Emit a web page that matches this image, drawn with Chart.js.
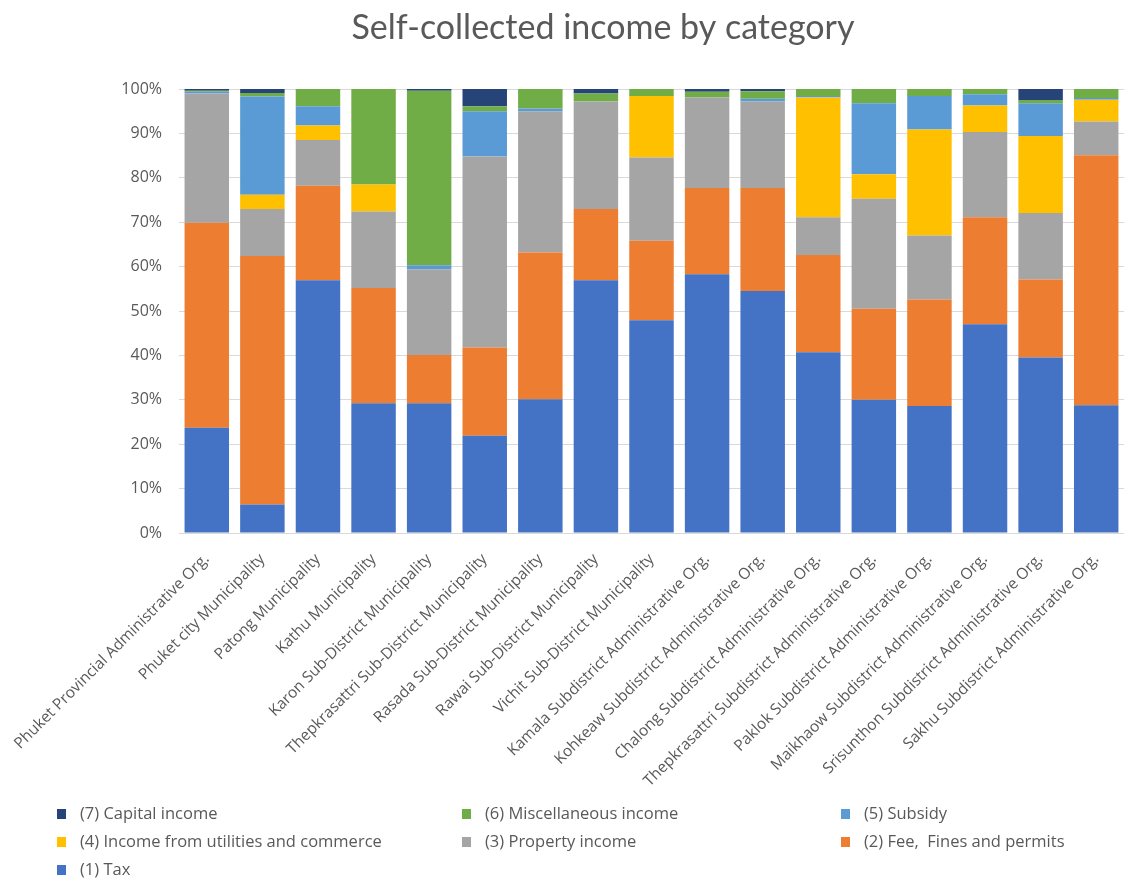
<!DOCTYPE html>
<html>
<head>
<meta charset="utf-8">
<script src="https://cdn.jsdelivr.net/npm/chart.js@4.4.1/dist/chart.umd.min.js"></script>
<style>
  html, body { margin: 0; padding: 0; background: #fff; }
  #wrap { position: relative; width: 1124px; height: 882px; }
</style>
</head>
<body>
<div id="wrap"><canvas id="chart"></canvas></div>
<script>
// categories
const categories = [
  'Phuket Provincial Administrative Org.',
  'Phuket city Municipality',
  'Patong Municipality',
  'Kathu Municipality',
  'Karon Sub-District Municipality',
  'Thepkrasattri Sub-District Municipality',
  'Rasada Sub-District Municipality',
  'Rawai Sub-District Municipality',
  'Vichit Sub-District Municipality',
  'Kamala Subdistrict Administrative Org.',
  'Kohkeaw Subdistrict Administrative Org.',
  'Chalong Subdistrict Administrative Org.',
  'Thepkrasattri Subdistrict Administrative Org.',
  'Paklok Subdistrict Administrative Org.',
  'Maikhaow Subdistrict Administrative Org.',
  'Srisunthon Subdistrict Administrative Org.',
  'Sakhu Subdistrict Administrative Org.'
];

// series values (percent of self-collected income)
const tax       = [23.7, 6.4, 56.9, 29.2, 29.2, 21.9, 30.1, 56.9, 47.9, 58.3, 54.5, 40.7, 30.0, 28.6, 47.0, 39.5, 28.8];
const fees      = [46.2, 56.0, 21.3, 26.0, 10.9, 19.9, 33.1, 16.1, 17.9, 19.4, 23.2, 21.9, 20.5, 24.0, 24.1, 17.6, 56.3];
const property  = [29.1, 10.6, 10.3, 17.2, 19.3, 43.0, 31.8, 24.2, 18.8, 20.4, 19.5, 8.5, 24.8, 14.4, 19.2, 15.0, 7.6];
const utilities = [0, 3.2, 3.3, 6.1, 0, 0, 0, 0, 13.8, 0, 0, 27.0, 5.5, 23.9, 6.0, 17.3, 4.9];
const subsidy   = [0.4, 22.1, 4.3, 0, 0.9, 10.2, 0.6, 0, 0, 0, 0.6, 0.3, 16.0, 7.5, 2.5, 7.4, 0.4];
const misc      = [0.2, 0.8, 3.9, 21.5, 39.3, 1.1, 4.4, 1.8, 1.6, 1.3, 1.7, 1.6, 3.2, 1.6, 1.2, 0.7, 2.0];
const capital   = [0.4, 0.9, 0, 0, 0.4, 3.9, 0, 1.0, 0, 0.6, 0.5, 0, 0, 0, 0, 2.5, 0];

const seriesNames = [
  '(1) Tax',
  '(2) Fee,  Fines and permits',
  '(3) Property income',
  '(4) Income from utilities and commerce',
  '(5) Subsidy',
  '(6) Miscellaneous income',
  '(7) Capital income'
];
const seriesData = [tax, fees, property, utilities, subsidy, misc, capital];
const seriesColors = ['#4472C4', '#ED7D31', '#A5A5A5', '#FFC000', '#5B9BD5', '#70AD47', '#264478'];

const TEXT = '#595959';
const FONT = "'Open Sans', 'Noto Sans', sans-serif";
const TITLE = 'Self-collected income by category';

const datasets = seriesNames.map((name, i) => ({
  label: name,
  data: seriesData[i],
  backgroundColor: seriesColors[i],
  borderWidth: 0,
  barPercentage: 0.8,
  categoryPercentage: 1.0
}));

// title drawn by hand so it can sit where Excel put it
const titlePlugin = {
  id: 'titlePlugin',
  afterDraw(chart) {
    const ctx = chart.ctx;
    ctx.save();
    ctx.font = "34px Lato, 'Open Sans', sans-serif";
    ctx.fillStyle = TEXT;
    ctx.textAlign = 'center';
    ctx.textBaseline = 'middle';
    ctx.fillText(TITLE, 603, 28);
    ctx.restore();
  }
};

// legend in a 3-column grid, Excel style (drawn last series first)
const gridLegend = {
  id: 'gridLegend',
  afterDraw(chart) {
    const ctx = chart.ctx;
    const cols = [57, 462, 841];
    const rows = [814, 842, 870];
    const order = chart.data.datasets.map((d, i) => i).reverse();
    ctx.save();
    ctx.font = '16.5px ' + FONT;
    ctx.textBaseline = 'middle';
    ctx.textAlign = 'left';
    order.forEach((dsIndex, k) => {
      const ds = chart.data.datasets[dsIndex];
      const x = cols[k % 3];
      const y = rows[Math.floor(k / 3)];
      ctx.fillStyle = ds.backgroundColor;
      ctx.fillRect(x, y - 5, 9, 10);
      ctx.fillStyle = TEXT;
      ctx.fillText(ds.label, x + 23, y);
    });
    ctx.restore();
  }
};

new Chart(document.getElementById('chart').getContext('2d'), {
  type: 'bar',
  data: { labels: categories, datasets: datasets },
  options: {
    responsive: true,
    maintainAspectRatio: false,
    animation: false,
    layout: { padding: { top: 89, right: 0, bottom: 0, left: 0 } },
    plugins: {
      legend: { display: false },
      tooltip: { enabled: false },
      title: { display: false }
    },
    scales: {
      x: {
        stacked: true,
        grid: { display: false },
        border: { display: true, color: '#D9D9D9', width: 1 },
        ticks: {
          color: TEXT,
          font: { family: FONT, size: 15.5 },
          autoSkip: false,
          minRotation: 45,
          maxRotation: 45,
          padding: 9
        },
        afterFit(scale) {
          scale.height = 882 - 533;
          scale.paddingLeft = 0;
          scale.paddingRight = 0;
        }
      },
      y: {
        stacked: true,
        min: 0,
        max: 100,
        border: { display: false },
        grid: { color: '#D9D9D9', lineWidth: 1, drawTicks: false },
        ticks: {
          stepSize: 10,
          color: TEXT,
          font: { family: FONT, size: 16 },
          padding: 17,
          callback: v => v + '%'
        },
        afterFit(scale) { scale.width = 179; }
      }
    }
  },
  plugins: [titlePlugin, gridLegend]
});
</script>
</body>
</html>
